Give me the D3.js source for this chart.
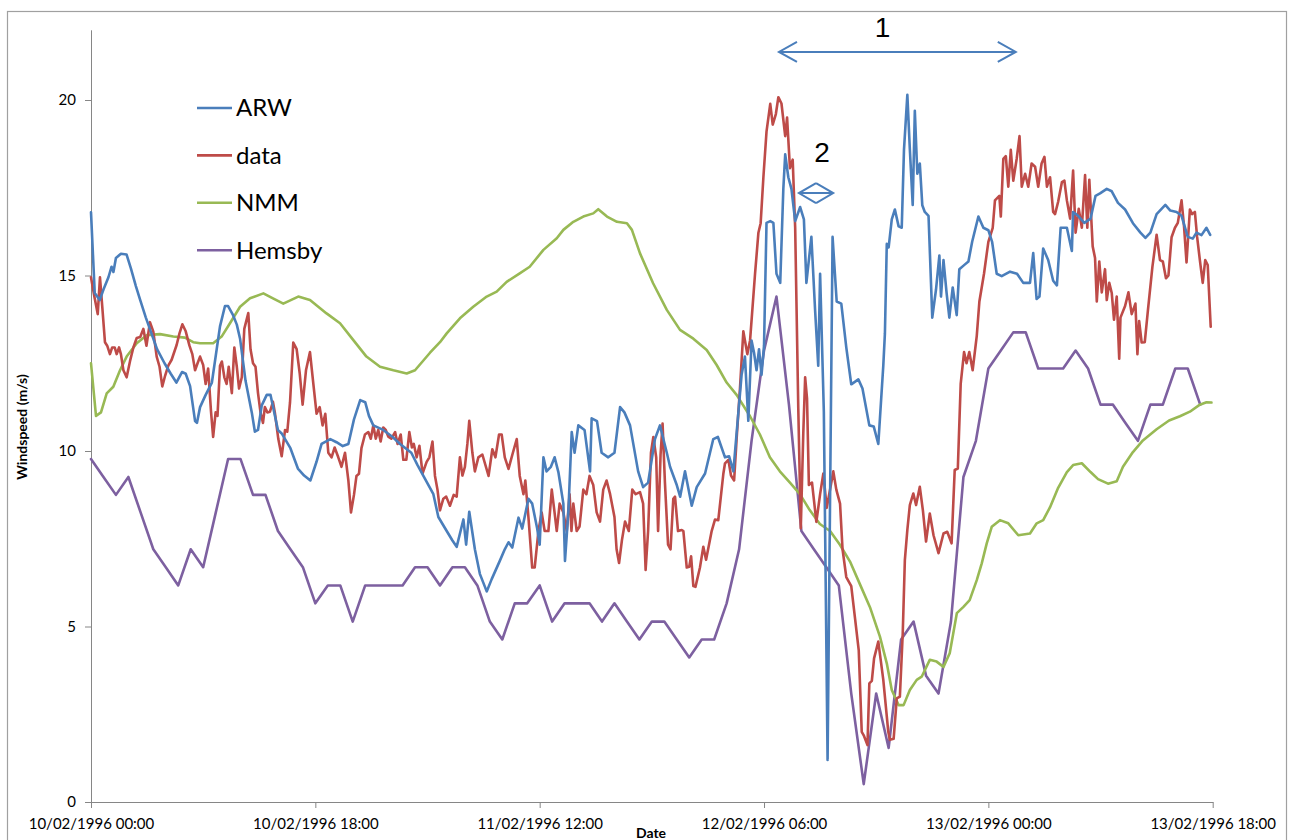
<!DOCTYPE html>
<html>
<head>
<meta charset="utf-8">
<script src="https://cdn.jsdelivr.net/npm/d3@7"></script>
<style>
  body { margin: 0; background: #fff; }
  svg { display: block; }
</style>
</head>
<body>
<svg id="chart" width="1292" height="840"></svg>
<script>
// hours since 10/02/1996 00:00, windspeed m/s
var arw = [
  [0,16.8],[0.3,14.5],[0.7,14.3],[1.0,14.6],[1.4,14.95],[1.65,15.25],[1.8,15.1],[2.0,15.5],[2.4,15.62],[2.85,15.6],
  [3.2,15.2],[3.6,14.7],[3.95,14.3],[4.4,13.8],[4.75,13.45],[5.3,12.9],[5.9,12.5],[6.4,12.2],[6.85,11.95],[7.3,12.25],
  [7.6,12.2],[7.95,11.85],[8.35,10.85],[8.5,10.8],[8.75,11.25],[9.2,11.6],[9.7,11.95],[10.35,13.55],[10.75,14.13],[11.0,14.13],
  [11.4,13.87],[11.7,13.6],[11.96,13.2],[12.4,12.0],[12.9,11.1],[13.15,10.55],[13.4,10.6],[13.7,11.3],[14.1,11.6],[14.4,11.6],
  [15.0,10.6],[15.3,10.5],[16.0,10.08],[16.6,9.5],[17.1,9.3],[17.6,9.16],[18.1,9.7],[18.5,10.2],[19.2,10.34],[19.7,10.25],
  [20.2,10.14],[20.65,10.2],[21.1,10.9],[21.6,11.45],[22.0,11.39],[22.3,11.0],[22.65,10.73],[23.45,10.6],[24.2,10.4],[24.8,10.2],
  [25.7,9.95],[26.2,9.6],[26.67,9.29],[27.47,8.77],[27.87,8.12],[28.54,7.72],[29.0,7.45],[29.34,7.27],[29.88,8.05],[30.1,7.33],
  [30.35,8.27],[30.8,7.2],[31.2,6.5],[31.75,6.0],[32.15,6.35],[32.8,6.87],[33.2,7.2],[33.5,7.4],[33.8,7.25],[34.3,8.1],
  [34.6,7.79],[35.1,8.64],[35.4,8.5],[35.8,7.79],[36.0,7.33],[36.3,9.82],[36.55,9.42],[36.9,9.55],[37.2,9.82],[37.5,9.4],
  [37.9,8.5],[38.03,6.87],[38.3,8.25],[38.57,10.54],[38.8,9.95],[39.1,10.73],[39.6,10.6],[40.04,9.42],[40.17,10.93],[40.6,10.85],
  [40.97,9.95],[41.5,9.82],[42.0,9.95],[42.45,11.25],[42.8,11.1],[43.25,10.73],[43.9,9.42],[44.3,8.97],[44.7,9.1],[45.25,10.34],
  [45.65,10.73],[46.2,9.95],[46.46,9.55],[47.0,9.03],[47.27,8.7],[47.66,9.42],[48.2,8.44],[48.6,8.97],[49.27,9.36],[49.93,10.34],
  [50.3,10.4],[50.87,9.82],[51.2,9.85],[51.54,9.42],[52.2,12.17],[52.47,12.69],[52.74,10.86],[53.0,13.15],[53.2,12.8],[53.4,12.3],
  [53.6,12.9],[53.8,12.17],[54.0,13.0],[54.2,16.5],[54.5,16.55],[54.75,16.5],[55.0,15.05],[55.3,14.79],[55.55,17.47],[55.7,18.45],
  [55.95,17.8],[56.2,17.47],[56.5,16.55],[56.9,16.95],[57.2,16.6],[57.4,14.79],[57.8,16.1],[58.1,14.0],[58.35,12.43],[58.5,15.05],
  [58.8,11.12],[59.1,1.2],[59.5,16.1],[59.83,14.26],[60.2,14.2],[60.6,12.95],[61.0,11.9],[61.57,12.04],[61.9,11.78],[62.45,10.73],
  [62.8,10.7],[63.17,10.2],[63.57,12.43],[63.7,13.35],[63.85,15.9],[64.0,15.8],[64.25,16.6],[64.5,16.88],[64.8,16.4],[65.05,16.36],
  [65.23,18.58],[65.5,20.15],[65.7,18.6],[65.93,17.01],[66.1,19.69],[66.3,17.9],[66.5,18.19],[66.7,17.0],[66.9,16.81],[67.2,16.7],
  [67.5,13.8],[67.8,14.6],[68.07,15.57],[68.2,14.4],[68.4,15.44],[68.65,14.5],[68.87,13.8],[69.14,14.66],[69.46,13.87],[69.67,15.18],
  [70.1,15.31],[70.4,15.4],[70.7,15.96],[71.2,16.68],[71.6,16.36],[72.0,16.29],[72.3,15.96],[72.67,15.05],[73.07,14.98],[73.74,15.11],
  [74.3,15.05],[74.8,14.79],[75.34,14.79],[75.6,15.64],[75.87,14.33],[76.1,14.4],[76.4,15.77],[76.8,15.44],[77.2,14.85],[77.5,14.72],
  [77.8,16.36],[78.3,16.36],[78.7,15.7],[78.8,16.81],[79.2,16.7],[79.7,16.5],[80.2,16.62],[80.6,17.27],[80.96,17.34],[81.5,17.47],
  [81.9,17.4],[82.4,17.07],[82.97,16.88],[83.6,16.49],[84.2,16.22],[84.6,16.07],[85.0,16.22],[85.5,16.75],[86.2,17.01],[86.6,16.85],
  [87.1,16.81],[87.5,16.7],[88.0,16.1],[88.4,16.05],[88.7,16.22],[89.1,16.15],[89.5,16.36],[89.8,16.16]
];

var obs = [
  [0,14.95],[0.27,14.4],[0.54,13.9],[0.72,14.95],[0.9,14.13],[1.12,13.1],[1.3,13.0],[1.52,12.76],[1.7,12.95],[1.9,12.95],
  [2.06,12.76],[2.25,12.95],[2.4,12.76],[2.6,12.3],[2.86,12.1],[3.13,12.56],[3.4,12.95],[3.67,13.22],[3.95,13.25],[4.2,13.48],
  [4.45,13.0],[4.73,13.67],[5.0,13.4],[5.27,12.69],[5.5,12.4],[5.72,11.84],[5.95,12.15],[6.2,12.43],[6.47,12.6],[6.87,13.02],
  [7.1,13.35],[7.33,13.61],[7.6,13.41],[7.9,13.0],[8.13,12.76],[8.35,12.3],[8.55,12.5],[8.75,12.69],[9.0,12.45],[9.2,11.91],
  [9.4,12.35],[9.63,11.12],[9.8,10.4],[10.0,11.1],[10.15,11.0],[10.35,12.43],[10.5,12.55],[10.7,12.1],[10.88,11.91],[11.05,12.4],
  [11.3,11.65],[11.5,12.95],[11.7,12.4],[11.88,11.78],[12.1,12.1],[12.3,13.48],[12.62,13.93],[12.8,12.9],[13.0,12.5],[13.2,12.4],
  [13.4,11.65],[13.6,11.1],[13.8,10.8],[13.95,11.25],[14.15,11.1],[14.36,11.12],[14.6,11.4],[14.75,11.1],[15.03,10.34],[15.3,9.85],
  [15.57,10.6],[15.75,10.55],[15.97,11.39],[16.23,13.09],[16.5,12.9],[16.75,12.2],[16.98,11.32],[17.25,12.3],[17.57,12.82],[17.84,11.91],
  [18.1,11.06],[18.35,11.25],[18.58,10.73],[18.8,11.06],[19.04,9.95],[19.3,9.82],[19.55,10.1],[19.84,9.82],[20.1,9.55],[20.38,9.95],
  [20.65,9.16],[20.86,8.25],[21.1,8.75],[21.3,9.29],[21.5,9.35],[21.7,10.08],[21.98,10.47],[22.25,10.54],[22.45,10.35],[22.65,10.73],
  [22.85,10.35],[23.05,10.6],[23.24,10.27],[23.45,10.67],[23.65,10.6],[23.85,10.41],[24.1,10.35],[24.4,10.54],[24.6,10.2],[24.85,10.47],
  [25.06,9.75],[25.3,9.75],[25.54,10.54],[25.75,10.1],[25.9,10.2],[26.13,9.82],[26.35,10.15],[26.6,9.36],[26.93,9.69],[27.15,9.82],
  [27.4,10.27],[27.6,9.29],[27.8,8.9],[28.0,8.31],[28.27,8.64],[28.5,8.7],[28.8,8.44],[29.1,8.75],[29.34,8.7],[29.6,9.82],
  [29.8,9.3],[30.0,9.55],[30.2,10.21],[30.35,10.86],[30.6,9.95],[30.8,9.42],[31.08,9.82],[31.4,9.9],[31.9,9.29],[32.2,10.05],
  [32.45,9.82],[32.74,10.47],[32.95,10.47],[33.2,9.82],[33.5,9.49],[33.85,9.95],[34.16,10.34],[34.4,9.29],[34.7,8.77],[34.85,9.16],
  [35.1,8.1],[35.4,6.68],[35.6,6.68],[35.9,7.72],[36.16,8.25],[36.4,7.72],[36.7,7.72],[36.97,8.9],[37.15,8.38],[37.37,7.72],
  [37.6,8.5],[37.9,8.25],[38.17,7.72],[38.4,8.77],[38.55,7.72],[38.7,8.5],[38.97,7.72],[39.2,7.85],[39.5,8.9],[39.75,8.77],
  [40.0,9.29],[40.3,9.03],[40.57,8.25],[40.84,7.99],[41.1,8.9],[41.37,9.16],[41.65,8.77],[42.0,8.12],[42.17,7.2],[42.37,6.81],
  [42.6,7.46],[42.85,7.99],[43.15,7.72],[43.43,8.9],[43.7,8.77],[44.05,8.83],[44.3,8.5],[44.5,6.61],[44.7,7.72],[44.93,9.95],
  [45.12,10.4],[45.35,9.82],[45.5,7.72],[45.7,9.9],[45.86,10.78],[46.05,9.1],[46.3,7.33],[46.5,7.2],[46.72,8.64],[46.86,8.7],
  [47.1,7.72],[47.4,7.75],[47.53,7.72],[47.8,6.68],[48.0,6.7],[48.15,7.0],[48.33,6.15],[48.5,6.13],[48.86,6.68],[49.13,7.27],
  [49.35,6.9],[49.8,7.72],[50.07,8.05],[50.33,8.03],[50.74,9.36],[50.87,9.65],[51.14,9.75],[51.35,9.3],[51.6,9.16],[51.8,10.34],
  [52.07,11.78],[52.34,13.41],[52.66,12.76],[52.88,13.15],[53.28,15.05],[53.55,16.22],[53.73,16.49],[53.95,17.8],[54.2,19.1],[54.5,19.89],
  [54.7,19.3],[54.95,19.6],[55.15,20.08],[55.4,19.9],[55.7,18.97],[55.85,19.5],[56.08,18.06],[56.3,18.3],[56.5,16.36],[56.75,11.2],
  [56.95,7.8],[57.15,10.5],[57.3,12.1],[57.45,11.5],[57.6,9.03],[57.85,9.1],[58.2,7.98],[58.5,8.77],[58.76,9.36],[59.03,8.38],
  [59.3,8.9],[59.56,9.42],[59.8,8.9],[60.1,8.5],[60.3,7.2],[60.6,6.41],[61.0,6.15],[61.3,5.24],[61.6,4.32],[61.84,2.0],
  [62.0,1.9],[62.3,1.62],[62.45,3.38],[62.65,3.45],[62.83,4.09],[63.17,4.57],[63.57,3.48],[63.97,2.0],[64.1,1.77],[64.4,1.8],
  [64.65,2.95],[64.9,3.0],[65.13,4.8],[65.3,6.89],[65.5,7.75],[65.7,8.46],[65.98,8.79],[66.2,8.46],[66.5,8.98],[66.75,8.3],
  [67.0,7.42],[67.3,8.22],[67.6,7.6],[68.0,7.09],[68.4,7.65],[68.7,7.7],[69.05,7.37],[69.3,9.46],[69.55,9.5],[69.78,11.91],
  [70.05,12.82],[70.25,12.5],[70.47,12.82],[70.74,12.3],[71.07,13.28],[71.28,14.26],[71.65,15.05],[72.0,15.96],[72.35,16.36],[72.53,17.14],
  [72.88,17.27],[73.0,16.68],[73.2,18.32],[73.4,18.4],[73.6,17.53],[73.8,18.58],[74.0,17.7],[74.27,18.32],[74.5,18.97],[74.68,17.53],
  [74.95,17.9],[75.2,17.53],[75.47,18.19],[75.75,18.1],[76.0,17.53],[76.27,18.19],[76.5,18.38],[76.7,17.53],[76.95,17.8],[77.2,16.81],
  [77.35,16.75],[77.6,17.1],[77.9,17.66],[78.1,17.7],[78.3,17.14],[78.56,16.62],[78.8,17.99],[79.0,16.22],[79.25,16.9],[79.5,16.36],
  [79.76,17.86],[79.94,16.36],[80.1,17.73],[80.37,15.83],[80.56,15.5],[80.7,14.26],[80.9,15.4],[81.1,14.52],[81.36,15.18],[81.5,14.3],
  [81.7,14.79],[81.9,14.5],[82.08,13.74],[82.3,14.4],[82.5,12.63],[82.6,13.8],[82.97,14.13],[83.24,14.52],[83.5,13.9],[83.8,14.2],
  [83.96,12.76],[84.1,13.7],[84.3,13.09],[84.55,13.1],[84.8,14.0],[85.16,15.24],[85.5,16.16],[85.77,15.44],[86.0,15.4],[86.25,14.92],
  [86.45,15.0],[86.7,16.09],[86.97,16.36],[87.2,16.5],[87.5,17.14],[87.7,16.4],[87.9,15.37],[88.17,16.88],[88.35,16.75],[88.57,16.81],
  [88.75,16.1],[88.97,15.44],[89.2,14.79],[89.4,15.44],[89.6,15.3],[89.84,13.54]
];

var nmm = [
  [0,12.5],[0.4,11.0],[0.8,11.1],[1.26,11.64],[1.79,11.83],[2.33,12.3],[2.86,12.69],[3.67,13.07],[4.47,13.3],[5.54,13.33],
  [6.6,13.26],[7.54,13.23],[8.2,13.1],[8.75,13.07],[9.8,13.07],[10.48,13.26],[11.15,13.64],[11.96,14.11],[12.76,14.35],[13.83,14.49],
  [14.6,14.35],[15.43,14.2],[16.63,14.4],[17.57,14.3],[18.9,13.92],[19.98,13.64],[21.05,13.16],[22.1,12.69],[23.19,12.4],[24.26,12.3],
  [25.33,12.21],[26.0,12.3],[27.2,12.8],[28.0,13.1],[28.54,13.35],[29.6,13.78],[30.67,14.11],[31.75,14.4],[32.55,14.54],[33.35,14.82],
  [34.4,15.06],[35.2,15.25],[36.3,15.73],[37.37,16.06],[37.9,16.3],[38.7,16.53],[39.5,16.68],[40.3,16.77],[40.7,16.89],[41.4,16.68],
  [42.2,16.53],[43.0,16.49],[43.4,16.3],[44.05,15.63],[45.1,14.78],[46.2,14.02],[47.26,13.45],[48.33,13.2],[49.4,12.88],[50.2,12.45],
  [51.0,11.95],[51.8,11.6],[52.88,10.99],[53.67,10.47],[54.47,9.82],[55.27,9.42],[56.08,9.1],[56.88,8.77],[57.68,8.31],[58.48,7.92],
  [59.3,7.72],[60.09,7.33],[60.9,6.85],[61.7,6.2],[62.5,5.55],[63.3,4.71],[63.85,3.95],[64.25,3.19],[64.8,2.76],[65.2,2.76],
  [65.7,3.19],[66.25,3.48],[66.65,3.57],[67.3,4.05],[67.85,4.0],[68.4,3.85],[68.9,4.24],[69.47,5.38],[70.0,5.56],[70.5,5.75],
  [71.07,6.32],[71.47,6.8],[71.87,7.37],[72.27,7.84],[72.93,8.03],[73.6,7.94],[74.4,7.6],[75.34,7.65],[75.88,7.94],[76.4,8.03],
  [76.95,8.4],[77.6,8.95],[78.3,9.4],[78.8,9.6],[79.5,9.65],[80.2,9.4],[80.8,9.2],[81.6,9.07],[82.3,9.14],[82.8,9.55],
  [83.6,9.97],[84.4,10.3],[85.5,10.62],[86.5,10.87],[87.37,10.99],[88.17,11.12],[88.97,11.32],[89.5,11.39],[89.9,11.38]
];

// hourly station obs, from hour 0
var hemsby = [
  9.77,9.26,8.75,9.26,8.23,7.20,6.69,6.17,7.20,6.69,
  8.23,9.77,9.77,8.75,8.75,7.72,7.20,6.69,5.66,6.17,
  6.17,5.14,6.17,6.17,6.17,6.17,6.69,6.69,6.17,6.69,
  6.69,6.17,5.14,4.63,5.66,5.66,6.17,5.14,5.66,5.66,
  5.66,5.14,5.66,5.14,4.63,5.14,5.14,4.63,4.12,4.63,
  4.63,5.66,7.20,10.29,12.86,14.40,11.32,7.72,7.20,6.69,
  6.17,3.09,0.51,3.09,1.54,4.63,5.14,3.60,3.09,5.14,
  9.26,10.29,12.35,12.86,13.38,13.38,12.35,12.35,12.35,12.86,
  12.35,11.32,11.32,10.80,10.29,11.32,11.32,12.35,12.35,11.32
];

var seriesNames = ['ARW', 'data', 'NMM', 'Hemsby'];
var seriesColors = ['#4a7ebb', '#be4b48', '#98b954', '#7d60a0'];

var xTickHours = [0, 18, 36, 54, 72, 90];
var xTickLabels = ['10/02/1996 00:00', '10/02/1996 18:00', '11/02/1996 12:00',
                   '12/02/1996 06:00', '13/02/1996 00:00', '13/02/1996 18:00'];
var yTicks = [0, 5, 10, 15, 20];

// arrows drawn on the chart: [from hour, to hour, level], and their labels
var arrows = [[55.2, 74.2, 21.37], [56.8, 59.55, 17.35]];
var arrowLabels = [['1', 63.5, 21.8], ['2', 58.65, 18.23]];

var svg = d3.select('#chart');
var x = d3.scaleLinear().domain([0, 90]).range([91, 1212.7]);
var y = d3.scaleLinear().domain([0, 22]).range([802, 29.8]);

svg.append('rect')
  .attr('x', 7.5).attr('y', 11.5)
  .attr('width', 1279).attr('height', 840)
  .attr('fill', '#fff').attr('stroke', '#a0a0a0').attr('stroke-width', 1.2);

var yAxis = svg.append('g')
  .attr('transform', 'translate(91,0)')
  .call(d3.axisLeft(y).tickValues(yTicks).tickSize(6).tickSizeOuter(0).tickPadding(9));

var xAxis = svg.append('g')
  .attr('transform', 'translate(0,802)')
  .call(d3.axisBottom(x).tickValues(xTickHours)
    .tickFormat(function(d, i) { return xTickLabels[i]; })
    .tickSize(6).tickSizeOuter(0).tickPadding(10));

[yAxis, xAxis].forEach(function(g) {
  g.select('.domain').attr('stroke', '#868686');
  g.selectAll('.tick line').attr('stroke', '#868686');
  g.selectAll('.tick text')
    .attr('fill', '#000')
    .style('font-family', 'Lato, "Open Sans", sans-serif')
    .style('font-size', '15px');
});

svg.append('text')
  .attr('transform', 'translate(27,427) rotate(-90)')
  .attr('text-anchor', 'middle')
  .style('font-family', 'Lato, "Open Sans", sans-serif')
  .style('font-size', '14px').style('font-weight', 'bold')
  .text('Windspeed (m/s)');

svg.append('text')
  .attr('x', 651).attr('y', 838)
  .attr('text-anchor', 'middle')
  .style('font-family', 'Lato, "Open Sans", sans-serif')
  .style('font-size', '14px').style('font-weight', 'bold')
  .text('Date');

var line = d3.line()
  .x(function(d) { return x(d[0]); })
  .y(function(d) { return y(d[1]); });

var series = [arw, obs, nmm, hemsby.map(function(v, i) { return [i, v]; })];

// Hemsby at the bottom, ARW on top
for (var s = series.length - 1; s >= 0; s--) {
  svg.append('path')
    .datum(series[s])
    .attr('d', line)
    .attr('fill', 'none')
    .attr('stroke', seriesColors[s])
    .attr('stroke-width', 2.6)
    .attr('stroke-linejoin', 'round')
    .attr('stroke-linecap', 'round');
}

// legend
var legend = svg.append('g');
seriesNames.forEach(function(name, i) {
  var ly = 108 + i * 47.4;
  legend.append('line')
    .attr('x1', 197).attr('x2', 232).attr('y1', ly).attr('y2', ly)
    .attr('stroke', seriesColors[i]).attr('stroke-width', 2.6);
  legend.append('text')
    .attr('x', 236).attr('y', ly)
    .attr('dy', '0.35em')
    .style('font-family', 'Lato, "Open Sans", sans-serif')
    .style('font-size', '24px')
    .attr('fill', '#000')
    .text(name);
});

// annotation arrows
arrows.forEach(function(a) {
  var x1 = x(a[0]), x2 = x(a[1]), ay = y(a[2]);
  var head = Math.min(18, (x2 - x1) / 2);
  svg.append('path')
    .attr('d', 'M' + x1 + ',' + ay + 'H' + x2 +
      'M' + (x1 + head) + ',' + (ay - 10) + 'L' + x1 + ',' + ay + 'L' + (x1 + head) + ',' + (ay + 10) +
      'M' + (x2 - head) + ',' + (ay - 10) + 'L' + x2 + ',' + ay + 'L' + (x2 - head) + ',' + (ay + 10))
    .attr('fill', 'none')
    .attr('stroke', '#4a7ebb')
    .attr('stroke-width', 2);
});

arrowLabels.forEach(function(l) {
  svg.append('text')
    .attr('x', x(l[1])).attr('y', y(l[2]))
    .attr('text-anchor', 'middle')
    .style('font-family', '"Liberation Sans", Arial, sans-serif')
    .style('font-size', '28px')
    .attr('fill', '#000')
    .text(l[0]);
});
</script>
</body>
</html>
